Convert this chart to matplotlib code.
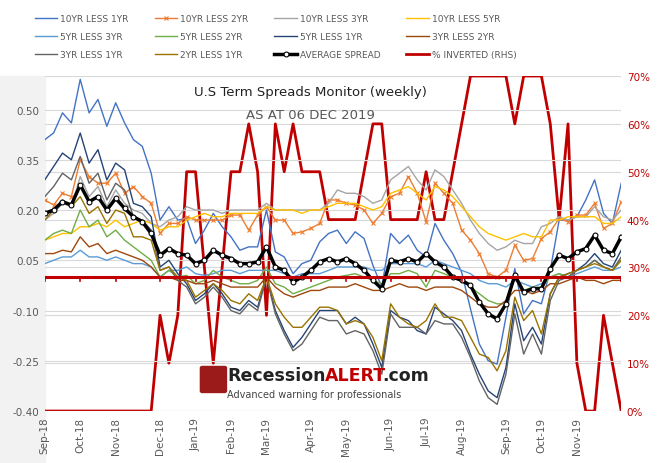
import matplotlib
matplotlib.use("Agg")
import matplotlib.pyplot as plt
import matplotlib.patches as mpatches
import numpy as np
import pandas as pd

dates = pd.date_range('2018-09-07', periods=66, freq='7D')

s10_1 = [0.41,0.43,0.49,0.46,0.59,0.49,0.53,0.45,0.52,0.46,0.41,0.39,0.31,0.17,0.21,0.17,0.175,
         0.10,0.14,0.19,0.15,0.12,0.08,0.09,0.09,0.20,0.075,0.06,0.01,0.04,0.05,0.105,0.13,
         0.14,0.10,0.135,0.115,0.035,-0.03,0.13,0.10,0.125,0.08,0.06,0.16,0.11,0.07,0.015,-0.095,-0.20,-0.25,-0.26,-0.12,0.025,-0.11,-0.07,-0.08,0.02,0.17,0.17,0.18,0.23,0.29,0.19,0.16,0.28]
s10_2 = [0.23,0.215,0.25,0.24,0.35,0.30,0.28,0.28,0.31,0.25,0.27,0.24,0.22,0.13,0.16,0.16,0.18,0.17,0.17,0.17,0.17,0.185,0.185,0.14,0.185,0.21,0.17,0.17,0.13,0.135,0.145,0.16,0.23,
         0.23,0.22,0.215,0.2,0.16,0.19,0.24,0.25,0.30,0.25,0.165,0.28,0.25,0.22,0.14,0.11,0.07,0.01,0.0,0.02,0.095,0.05,0.055,0.115,0.135,0.175,0.165,0.185,0.185,0.22,0.145,0.16,0.225]
s10_3 = [0.17,0.19,0.22,0.21,0.30,0.24,0.27,0.21,0.26,0.22,0.20,0.19,0.16,
         0.15,0.17,0.18,0.21,0.20,0.20,0.20,0.19,0.20,0.20,0.20,0.20,0.22,0.20,0.20,0.20,0.20,0.20,0.20,0.22,
         0.26,0.25,0.25,0.24,0.22,0.23,0.29,0.31,0.33,0.29,0.26,0.32,0.30,0.26,0.22,0.17,0.13,0.10,0.08,0.09,0.11,0.10,0.10,0.15,0.16,0.18,0.17,0.18,0.18,0.21,0.18,0.17,0.20]
s10_5 = [0.11,0.12,0.13,0.13,0.15,0.15,0.16,0.15,0.17,0.15,0.16,0.17,0.16,
         0.14,0.15,0.15,0.17,0.18,0.19,0.18,0.18,0.19,0.19,0.19,0.19,0.21,0.20,0.20,0.20,0.19,0.20,0.20,0.21,
         0.22,0.22,0.22,0.21,0.20,0.21,0.25,0.26,0.27,0.25,0.23,0.27,0.26,0.24,0.21,0.18,0.15,0.13,0.12,0.11,
         0.12,0.13,0.12,0.12,0.17,0.17,0.18,0.18,0.18,0.18,0.16,0.16,0.18]
s5_3 = [0.04,0.05,0.06,0.06,0.08,0.06,0.06,0.05,0.06,0.05,0.04,0.04,0.03,
        0.00,0.02,0.02,0.03,0.01,0.005,0.01,0.02,0.02,0.01,0.02,0.02,0.02,0.02,0.01,0.0,0.01,0.01,0.01,0.02,
        0.03,0.03,0.03,0.03,0.02,0.02,0.04,0.04,0.04,0.04,0.03,0.05,0.04,0.03,0.02,0.01,-0.01,-0.02,-0.02,-0.03,-0.01,-0.02,-0.03,-0.02,0.0,0.01,0.0,0.01,0.02,0.03,0.02,0.02,0.03]
s5_2 = [0.11,0.13,0.14,0.13,0.20,0.15,0.17,0.12,0.14,0.11,0.09,0.07,0.05,
        0.00,0.02,0.00,0.005,-0.02,-0.01,0.02,0.0,-0.01,-0.02,-0.02,-0.01,0.03,-0.02,-0.03,-0.05,-0.04,-0.03,-0.02,-0.01,
        0.0,0.005,0.01,0.0,-0.01,-0.02,0.01,0.01,0.02,0.01,-0.03,0.02,0.01,0.0,-0.01,-0.03,-0.05,-0.07,-0.08,-0.08,0.01,-0.04,-0.03,-0.03,0.0,0.01,0.0,0.02,0.03,0.05,0.03,0.02,0.05]
s5_1 = [0.29,0.33,0.37,0.35,0.43,0.34,0.38,0.29,0.34,0.32,0.22,0.21,0.18,
        0.03,0.05,0.01,-0.02,-0.07,-0.05,-0.02,-0.05,-0.09,-0.10,-0.07,-0.09,0.0,-0.10,-0.16,-0.21,-0.18,-0.14,-0.10,-0.10,
        -0.10,-0.14,-0.12,-0.14,-0.20,-0.27,-0.10,-0.12,-0.13,-0.16,-0.17,-0.09,-0.11,-0.13,-0.16,-0.23,-0.29,-0.34,-0.36,-0.27,-0.08,-0.19,-0.15,-0.20,-0.05,0.0,0.01,0.02,0.04,0.07,0.04,0.03,0.08]
s3_2 = [0.07,0.07,0.08,0.075,0.12,0.09,0.10,0.07,0.08,0.07,0.06,0.05,0.03,
        0.0,0.0,-0.01,-0.01,-0.02,-0.02,-0.01,-0.02,-0.03,-0.03,-0.03,-0.03,0.0,-0.03,-0.05,-0.06,-0.05,-0.04,-0.04,-0.03,
        -0.03,-0.03,-0.02,-0.03,-0.04,-0.04,-0.03,-0.02,-0.03,-0.03,-0.04,-0.03,-0.03,-0.03,-0.04,-0.06,-0.08,-0.09,-0.09,-0.07,-0.04,-0.04,-0.05,-0.04,-0.02,-0.02,-0.01,0.0,-0.01,-0.01,-0.02,-0.01,-0.01]
s3_1 = [0.24,0.27,0.31,0.29,0.36,0.28,0.31,0.23,0.28,0.26,0.18,0.17,0.14,
        0.02,0.03,-0.01,-0.03,-0.08,-0.06,-0.03,-0.06,-0.10,-0.11,-0.08,-0.10,0.0,-0.11,-0.17,-0.22,-0.20,-0.16,-0.12,-0.13,
        -0.13,-0.17,-0.16,-0.17,-0.22,-0.29,-0.11,-0.15,-0.15,-0.15,-0.17,-0.13,-0.14,-0.14,-0.18,-0.24,-0.31,-0.36,-0.38,-0.29,-0.11,-0.23,-0.17,-0.23,-0.07,-0.01,0.0,0.02,0.03,0.05,0.03,0.02,0.06]
s2_1 = [0.17,0.20,0.23,0.21,0.24,0.19,0.21,0.16,0.20,0.19,0.12,0.12,0.11,
        0.02,0.03,0.0,-0.01,-0.06,-0.04,-0.02,-0.04,-0.07,-0.08,-0.05,-0.07,0.0,-0.08,-0.12,-0.15,-0.15,-0.12,-0.09,-0.09,
        -0.10,-0.14,-0.13,-0.14,-0.18,-0.25,-0.08,-0.12,-0.14,-0.15,-0.13,-0.08,-0.12,-0.12,-0.13,-0.18,-0.23,-0.24,-0.28,-0.22,-0.06,-0.13,-0.10,-0.17,-0.05,0.0,0.01,0.02,0.03,0.04,0.03,0.02,0.05]
avg = [0.19,0.20,0.225,0.215,0.275,0.225,0.24,0.20,0.235,0.205,0.18,0.165,0.13,0.065,0.085,0.07,0.065,0.04,0.05,0.08,0.065,0.055,0.04,0.04,0.045,0.09,0.03,0.02,-0.015,0.0,0.02,0.045,0.055,
       0.045,0.055,0.04,0.02,-0.01,-0.035,0.05,0.045,0.055,0.045,0.07,0.045,0.03,0.0,-0.01,-0.025,-0.075,-0.11,-0.125,-0.08,0.005,-0.045,-0.035,-0.035,0.025,0.065,0.055,0.075,0.085,0.125,0.08,0.07,0.12]
pct_inv = [0]*13 + [20,10,20,50,50,30,10,30,50,50,60,50,20,60,50,60,50,50,50,40,
           40,40,40,50,60,60,40,40,40,40,50,40,40,50,60,70,70,70,70,70,60,70,70,70,60,40,60,10,0,0,20,10,0]

series = [
    ("10YR LESS 1YR", s10_1, "#4472C4"),
    ("10YR LESS 2YR", s10_2, "#ED7D31"),
    ("10YR LESS 3YR", s10_3, "#A5A5A5"),
    ("10YR LESS 5YR", s10_5, "#FFC000"),
    ("5YR LESS 3YR", s5_3, "#5B9BD5"),
    ("5YR LESS 2YR", s5_2, "#70AD47"),
    ("5YR LESS 1YR", s5_1, "#264478"),
    ("3YR LESS 2YR", s3_2, "#9E480E"),
    ("3YR LESS 1YR", s3_1, "#636363"),
    ("2YR LESS 1YR", s2_1, "#997300"),
]

RED = "#C00000"
x = np.arange(len(dates))

fig = plt.figure(figsize=(6.68, 4.64), dpi=100)
fig.patch.set_facecolor("white")
fig.patches.append(mpatches.Rectangle((0.0, 0.0), 0.067, 0.835, transform=fig.transFigure,
                                      color="#F2F2F2", zorder=-10))
ax = fig.add_axes([0.067, 0.112, 0.863, 0.722])
ax2 = ax.twinx()
ax.set_zorder(ax2.get_zorder() + 1)
ax.patch.set_visible(False)

per = dates.to_period('M')
tick_idx = [i for i in range(len(dates)) if i == 0 or per[i] != per[i - 1]]
tick_lab = [dates[i].strftime('%b-%y') for i in tick_idx]
tick_lab[-1] = ""

handles = []
for name, vals, col in series:
    if name == "10YR LESS 2YR":
        h, = ax.plot(x, vals, color=col, lw=1.0, marker='x', ms=3, mew=0.8, label=name, zorder=3)
    else:
        h, = ax.plot(x, vals, color=col, lw=1.0, label=name, zorder=3)
    handles.append(h)
h_avg, = ax.plot(x, avg, color="black", lw=2.5, marker='o', ms=3.5, mfc="white", mec="black",
                 mew=0.8, label="AVERAGE SPREAD", zorder=5)
handles.append(h_avg)
h_inv, = ax2.plot(x, np.array(pct_inv) / 100.0, color=RED, lw=2.0, label="% INVERTED (RHS)")
handles.append(h_inv)

ax.axhline(0, color=RED, lw=2.2, zorder=6)
for t in tick_idx:
    ax.plot([t, t], [0, -0.012], color=RED, lw=1.2, zorder=6)

ax.set_xlim(0, len(dates) - 1)
ax.set_ylim(-0.40, 0.60)
ax2.set_ylim(0, 0.70)
ax.set_yticks(np.arange(-0.40, 0.51, 0.15))
ax.set_yticklabels([f"{v:.2f}" for v in np.arange(-0.40, 0.51, 0.15)])
ax2.set_yticks(np.arange(0, 0.71, 0.10))
ax2.set_yticklabels([f"{int(round(v*100))}%" for v in np.arange(0, 0.71, 0.10)])
ax.set_xticks(tick_idx)
ax.set_xticklabels(tick_lab, rotation=90)

ax2.grid(axis='y', color="#D9D9D9", lw=0.8)
ax2.set_xticks(tick_idx)
ax2.grid(axis='x', color="#EDEDED", lw=0.8)
ax.grid(axis='y', color="#D9D9D9", lw=0.8)

for a in (ax, ax2):
    for s in a.spines.values():
        s.set_visible(False)
    a.tick_params(length=0)
ax.tick_params(axis='y', labelsize=7.5, labelcolor="#595959", pad=4)
ax.tick_params(axis='x', labelsize=7.5, labelcolor="#595959", pad=4)
ax2.tick_params(axis='y', labelsize=7.5, labelcolor=RED, pad=4)

ax.text(0.46, 0.955, "U.S Term Spreads Monitor (weekly)", transform=ax.transAxes, ha='center',
        va='center', fontsize=9.5, color="#222222", zorder=10)
ax.text(0.46, 0.885, "AS AT 06 DEC 2019", transform=ax.transAxes, ha='center', va='center',
        fontsize=9.5, color="#595959", zorder=10)

fig.patches.append(mpatches.FancyBboxPatch((0.303, 0.155), 0.033, 0.05, boxstyle="round,pad=0.003",
                                           transform=fig.transFigure, color="#9B1B1B", zorder=8))
fig.text(0.34, 0.19, "Recession", fontsize=12.5, fontweight='bold', color="#222222", va='center', zorder=9)
fig.text(0.487, 0.19, "ALERT", fontsize=12.5, fontweight='bold', color="#C00000", va='center', zorder=9)
fig.text(0.572, 0.19, ".com", fontsize=12.5, fontweight='bold', color="#222222", va='center', zorder=9)
fig.text(0.34, 0.148, "Advanced warning for professionals", fontsize=7, color="#444444", va='center', zorder=9)

ncol = 4
nrow = 3
ordered = []
for c in range(ncol):
    for r in range(nrow):
        ordered.append(handles[r * ncol + c])
fig.legend(handles=ordered, loc='upper left', bbox_to_anchor=(0.04, 0.985), ncol=ncol, frameon=False,
           fontsize=6.5, handlelength=2.5, columnspacing=2.9, labelspacing=1.0,
           labelcolor="#595959", handletextpad=0.3)

fig.savefig("out.png", dpi=100, facecolor="white")
